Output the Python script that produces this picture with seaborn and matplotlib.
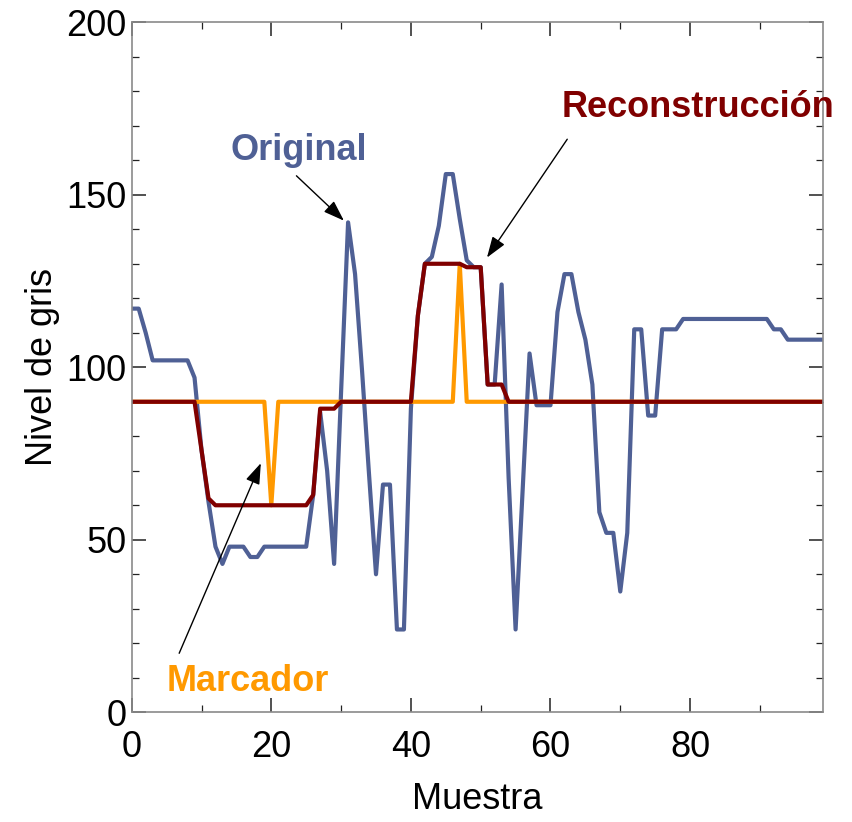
import numpy as np
import pandas as pd
import matplotlib
matplotlib.use("Agg")
import matplotlib.pyplot as plt
import seaborn as sns

# ---- data -------------------------------------------------------------
muestra = list(range(100))
original = ([117, 117, 110, 102, 102, 102, 102, 102, 102, 97,
             76, 61, 48, 43, 48, 48, 48, 45, 45, 48,
             48, 48, 48, 48, 48, 48, 63, 87, 70, 43,
             93, 142, 127, 99, 69, 40, 66, 66, 24, 24,
             88, 115, 130, 132, 141, 156, 156, 143, 131, 129,
             129, 95, 95, 124, 68, 24, 64, 104, 89, 89,
             89, 116, 127, 127, 116, 108, 95, 58, 52, 52,
             35, 52, 111, 111, 86, 86, 111, 111, 111, 114]
            + [114] * 12 + [111, 111, 108] + [108] * 5)
marcador = [90] * 20 + [60] + [90] * 26 + [130] + [90] * 52
reconstruccion = ([90] * 10 + [76, 62] + [60] * 14 + [63, 88, 88, 88]
                  + [90] * 11 + [115] + [130] * 6 + [129] * 3 + [95] * 3
                  + [90] * 46)

x_ticks = [0, 20, 40, 60, 80]
y_ticks = [0, 50, 100, 150, 200]

df = pd.DataFrame({"Muestra": muestra, "Original": original,
                   "Marcador": marcador, "Reconstruccion": reconstruccion})

# ---- style ------------------------------------------------------------
sns.set_style("ticks")
plt.rcParams["font.family"] = ["Liberation Sans", "DejaVu Sans"]
plt.rcParams["text.color"] = "black"
plt.rcParams["axes.labelcolor"] = "black"
plt.rcParams["xtick.labelcolor"] = "black"
plt.rcParams["ytick.labelcolor"] = "black"

c_orig = "#4F6095"
c_marc = "#FF9900"
c_rec = "#800000"

fig = plt.figure(figsize=(8.52, 8.22), dpi=100)
ax = fig.add_axes([0.1546, 0.1335, 0.811, 0.8394])

sns.lineplot(data=df, x="Muestra", y="Original", ax=ax, color=c_orig,
             lw=3.0, estimator=None, legend=False)
sns.lineplot(data=df, x="Muestra", y="Marcador", ax=ax, color=c_marc,
             lw=3.0, estimator=None, legend=False)
sns.lineplot(data=df, x="Muestra", y="Reconstruccion", ax=ax, color=c_rec,
             lw=3.0, estimator=None, legend=False)

ax.set_xlim(0, 99)
ax.set_ylim(0, 200)
ax.set_xticks(x_ticks)
ax.set_yticks(y_ticks)
ax.set_xticks(np.arange(10, 100, 20), minor=True)
ax.set_yticks(np.arange(10, 200, 10), minor=True)
ax.tick_params(which="both", direction="in", top=True, right=True,
               color="#222222", labelsize=26, labelcolor="black")
ax.tick_params(which="major", length=10, width=1.1)
ax.tick_params(which="minor", length=5, width=0.9)
ax.tick_params(axis="x", which="major", pad=13)
ax.tick_params(axis="y", which="major", pad=4)
for s in ax.spines.values():
    s.set_color("#8a8a8a")
    s.set_linewidth(1.2)

ax.set_xlabel("Muestra", fontsize=26, labelpad=12, color="black")
ax.set_ylabel("Nivel de gris", fontsize=26, labelpad=4, color="black")

arrow = dict(arrowstyle="-|>,head_length=0.8,head_width=0.28",
             mutation_scale=16, color="black", lw=1.0,
             shrinkA=0, shrinkB=0)

ax.text(24.0, 160.1, "Original", color=c_orig, fontsize=26,
        fontweight="bold", ha="center", va="baseline")
ax.annotate("", xy=(30.4, 142.5), xytext=(23.6, 155.5), arrowprops=arrow)

ax.text(81.1, 172.6, "Reconstrucción", color=c_rec, fontsize=26,
        fontweight="bold", ha="center", va="baseline", clip_on=False)
ax.annotate("", xy=(50.9, 131.8), xytext=(62.4, 166.1), arrowprops=arrow)

ax.text(16.6, 6.3, "Marcador", color=c_marc, fontsize=26,
        fontweight="bold", ha="center", va="baseline")
ax.annotate("", xy=(18.5, 72.2), xytext=(6.8, 17.1), arrowprops=arrow)

fig.savefig("out.png", dpi=100)
